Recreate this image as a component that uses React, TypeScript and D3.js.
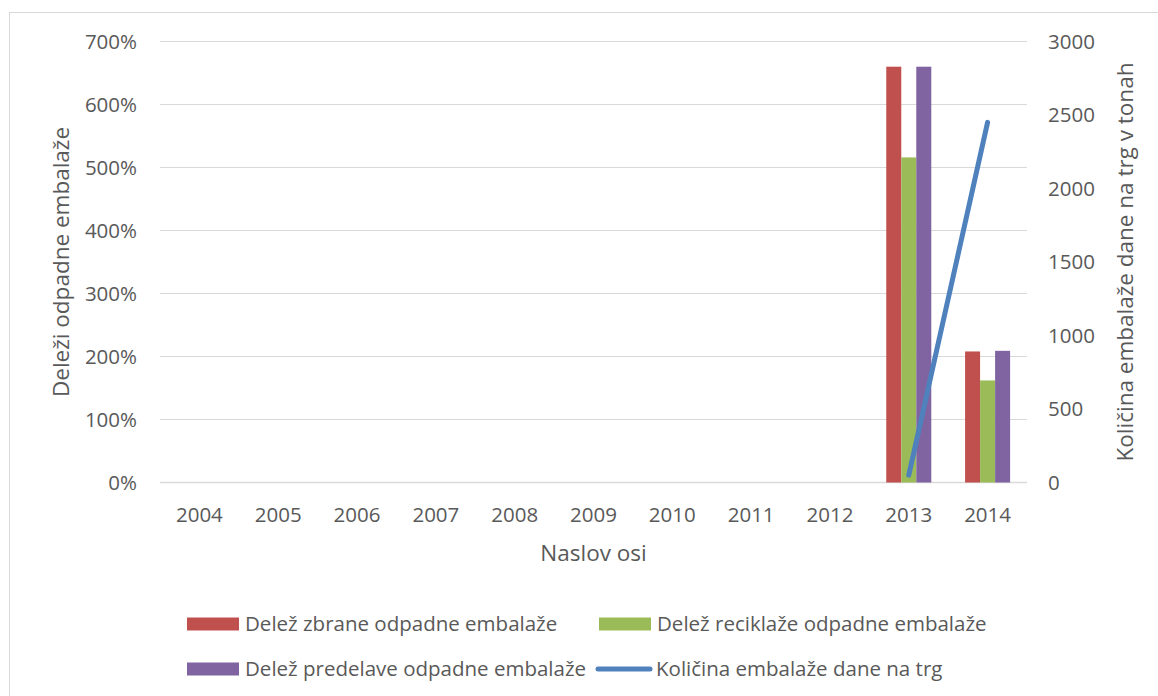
import React from "react";
import * as d3 from "d3";

const WIDTH = 1158;
const HEIGHT = 696;
const FONT = "'Open Sans', sans-serif";
const TEXT = "#595959";
const GRID = "#d9d9d9";
const FS = 20.5;
const TITLE_FS = 22.5;

const years = ["2004", "2005", "2006", "2007", "2008", "2009", "2010", "2011", "2012", "2013", "2014"];
// shares (1 = 100%), null = no value
const zbrane: (number | null)[] = [null, null, null, null, null, null, null, null, null, 6.6, 2.08];
const reciklaze: (number | null)[] = [null, null, null, null, null, null, null, null, null, 5.16, 1.62];
const predelave: (number | null)[] = [null, null, null, null, null, null, null, null, null, 6.6, 2.09];
// tonnes put on the market
const kolicina: (number | null)[] = [null, null, null, null, null, null, null, null, null, 50, 2450];

const leftTicks = [0, 1, 2, 3, 4, 5, 6, 7];
const rightTicks = [0, 500, 1000, 1500, 2000, 2500, 3000];

const barSeries = [
  { name: "Delež zbrane odpadne embalaže", color: "#c0504d", values: zbrane },
  { name: "Delež reciklaže odpadne embalaže", color: "#9bbb59", values: reciklaze },
  { name: "Delež predelave odpadne embalaže", color: "#8064a2", values: predelave },
];
const lineSeries = { name: "Količina embalaže dane na trg", color: "#4f81bd", values: kolicina };

const PLOT = { left: 160, right: 1027, top: 41.5, bottom: 482.5 };

export default function App() {
  const x = d3.scaleBand().domain(years).range([PLOT.left, PLOT.right]);
  const yL = d3.scaleLinear().domain([0, 7]).range([PLOT.bottom, PLOT.top]);
  const yR = d3.scaleLinear().domain([0, 3000]).range([PLOT.bottom, PLOT.top]);

  // Excel-like gap width 75%
  const groupW = x.bandwidth() / 1.75;
  const inner = d3
    .scaleBand()
    .domain(barSeries.map((s) => s.name))
    .range([0, groupW]);

  const linePts = years
    .map((yr, i) => ({ yr, v: lineSeries.values[i] }))
    .filter((d) => d.v != null);
  const linePath =
    d3
      .line<{ yr: string; v: number | null }>()
      .x((d) => (x(d.yr) ?? 0) + x.bandwidth() / 2)
      .y((d) => yR(d.v as number))(linePts) || "";

  const legend = [
    { kind: "bar", s: barSeries[0], x: 187, y: 624 },
    { kind: "bar", s: barSeries[1], x: 599, y: 624 },
    { kind: "bar", s: barSeries[2], x: 187, y: 669 },
    { kind: "line", s: lineSeries, x: 596, y: 669 },
  ];

  const midY = (PLOT.top + PLOT.bottom) / 2;

  return (
    <svg
      width={WIDTH}
      height={HEIGHT}
      style={{ position: "absolute", left: 0, top: 0, background: "#fff" }}
      fontFamily={FONT}
    >
      <rect x={9.5} y={12.5} width={1170} height={700} fill="#fff" stroke={GRID} strokeWidth={1} />

      {/* gridlines */}
      {leftTicks.map((t) => (
        <line key={t} x1={PLOT.left} x2={PLOT.right} y1={yL(t)} y2={yL(t)} stroke={GRID} strokeWidth={t === 0 ? 1.5 : 1} />
      ))}

      {/* left axis labels */}
      {leftTicks.map((t) => (
        <text key={t} x={137} y={yL(t)} dy="0.35em" textAnchor="end" fontSize={FS} fill={TEXT}>
          {d3.format(".0%")(t)}
        </text>
      ))}

      {/* right axis labels */}
      {rightTicks.map((t) => (
        <text key={t} x={1048} y={yR(t)} dy="0.35em" textAnchor="start" fontSize={FS} fill={TEXT}>
          {t}
        </text>
      ))}

      {/* x labels */}
      {years.map((yr) => (
        <text key={yr} x={(x(yr) ?? 0) + x.bandwidth() / 2} y={515} dy="0.35em" textAnchor="middle" fontSize={FS} fill={TEXT}>
          {yr}
        </text>
      ))}

      {/* bars */}
      {barSeries.map((s) =>
        years.map((yr, i) => {
          const v = s.values[i];
          if (v == null) return null;
          const bx = (x(yr) ?? 0) + (x.bandwidth() - groupW) / 2 + (inner(s.name) ?? 0);
          return <rect key={s.name + yr} x={bx} y={yL(v)} width={inner.bandwidth()} height={yL(0) - yL(v)} fill={s.color} />;
        })
      )}

      {/* line */}
      <path d={linePath} fill="none" stroke={lineSeries.color} strokeWidth={5} strokeLinecap="round" />

      {/* axis titles */}
      <text transform={`translate(61,${midY}) rotate(-90)`} textAnchor="middle" dy="0.35em" fontSize={TITLE_FS} fill={TEXT}>
        Deleži odpadne embalaže
      </text>
      <text transform={`translate(1125,${midY}) rotate(-90)`} textAnchor="middle" dy="0.35em" fontSize={TITLE_FS} fill={TEXT}>
        Količina embalaže dane na trg v tonah
      </text>
      <text x={(PLOT.left + PLOT.right) / 2} y={553} dy="0.35em" textAnchor="middle" fontSize={TITLE_FS} fill={TEXT}>
        Naslov osi
      </text>

      {/* legend */}
      {legend.map((l) => (
        <g key={l.s.name}>
          {l.kind === "bar" ? (
            <rect x={l.x} y={l.y - 6.5} width={52} height={13} fill={l.s.color} />
          ) : (
            <line x1={l.x + 2} x2={l.x + 54} y1={l.y} y2={l.y} stroke={l.s.color} strokeWidth={5} strokeLinecap="round" />
          )}
          <text x={l.kind === "bar" ? l.x + 58 : l.x + 60} y={l.y} dy="0.35em" fontSize={FS} fill={TEXT}>
            {l.s.name}
          </text>
        </g>
      ))}
    </svg>
  );
}
